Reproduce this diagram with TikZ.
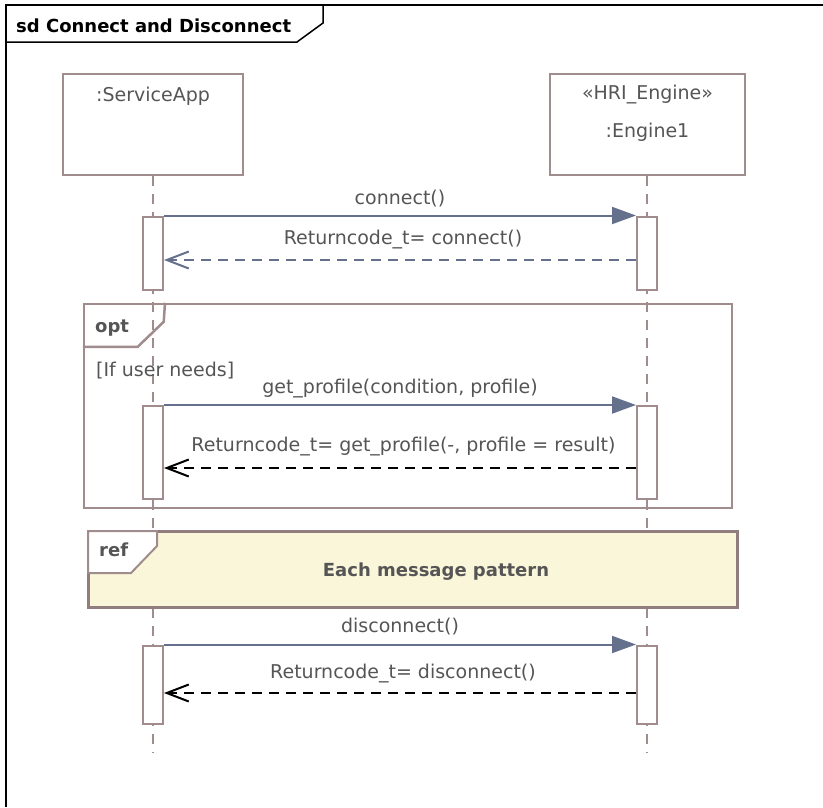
\documentclass[tikz,border=0pt]{standalone}
\usepackage{fontspec}
\setmainfont{DejaVu Sans}
\usetikzlibrary{arrows.meta,positioning}
\definecolor{framegray}{RGB}{160,140,140}
\definecolor{msgblue}{RGB}{100,112,140}
\definecolor{txtgray}{RGB}{85,85,85}
\definecolor{refyellow}{RGB}{250,246,218}
\begin{document}
\begin{tikzpicture}[x=1pt,y=-1pt,
  head/.style={draw=framegray,line width=2pt,fill=white,minimum height=101pt,anchor=north,inner sep=0pt},
  bar/.style={draw=framegray,line width=2pt,fill=white,minimum width=20pt,anchor=north,inner sep=0pt},
  life/.style={draw=framegray,line width=2pt,dash pattern=on 10pt off 8pt},
  lbl/.style={font=\fontsize{19}{22}\selectfont,text=txtgray,inner sep=0pt},
  bld/.style={font=\fontsize{18}{21}\selectfont\bfseries,text=txtgray,inner sep=0pt},
  call/.style={draw=msgblue,line width=2pt,-{Triangle[length=24pt,width=17pt]}},
  reply/.style={line width=2pt,dash pattern=on 10pt off 7pt,-{Straight Barb[length=22pt,width=17pt]}},
  optfrm/.style={draw=framegray,line width=2.5pt,inner sep=0pt},
  reffrm/.style={draw=framegray!90!black,line width=3pt,fill=refyellow,inner sep=0pt}]
\useasboundingbox (0,0) rectangle (823,807);
\draw[line width=1.5pt] (6,807) -- (6,5) -- (823,5);
\draw[line width=1.5pt] (6,42) -- (297,42) -- (323,23) -- (323,5);
\node[bld,text=black,anchor=west] (title) at (16,26) {sd Connect and Disconnect};
\node[head,minimum width=180pt] (app) at (153,73) {};
\node[head,minimum width=195pt] (eng) at (647.5,73) {};
\node[lbl] (appname) at ([yshift=-23.5pt]app.north) {:ServiceApp};
\node[lbl] (engtype) at ([yshift=-22pt]eng.north) {«HRI\_Engine»};
\node[lbl] (engname) at ([yshift=-59pt]eng.north) {:Engine1};
\coordinate (append) at (153,753);
\coordinate (engend) at (647,753);
\draw[life] (app.south) -- (append);
\draw[life] (engend |- eng.south) -- (engend);
\node[bar,minimum height=73.5pt] (a1) at (153,215.5) {};
\node[bar,minimum height=73.5pt] (b1) at (647,215.5) {};
\draw[call] (a1.north east) -- node[lbl,midway,yshift=17pt] {connect()} (b1.north west);
\draw[reply,msgblue] ([yshift=-44.5pt]b1.north west) -- node[lbl,midway,xshift=3pt,yshift=20pt] {Returncode\_t= connect()} ([yshift=-44.5pt]a1.north east);
\node[optfrm,minimum width=648pt,minimum height=204pt] (opt) at (408,406) {};
\draw[optfrm] ([yshift=-44pt]opt.north west) -- ++(55,0) -- ++(26,-25) -- (opt.north west -| 165,0);
\node[bld,anchor=base west] (optname) at (95,332) {opt};
\node[lbl,anchor=west] (guard) at (96,371) {[If user needs]};
\node[bar,minimum height=93pt] (a2) at (153,405) {};
\node[bar,minimum height=93pt] (b2) at (647,405) {};
\draw[call] (a2.north east) -- node[lbl,midway,yshift=16.5pt] {get\_profile(condition, profile)} (b2.north west);
\draw[reply] ([yshift=-63pt]b2.north west) -- node[lbl,midway,xshift=3.5pt,yshift=21pt] {Returncode\_t= get\_profile(-, profile = result)} ([yshift=-63pt]a2.north east);
\node[reffrm,minimum width=649pt,minimum height=76pt] (refbox) at (412.5,569) {};
\draw[draw=framegray,line width=2pt,fill=white] ([xshift=1.5pt,yshift=-1.5pt]refbox.north west) -- ++(0,42) -- ++(43,0) -- ++(26,-27) -- ++(0,-15) -- cycle;
\node[bld,anchor=base west] (refname) at (99,556) {ref};
\node[bld] (refname) at (436,572) {Each message pattern};
\node[bar,minimum height=78.5pt] (a3) at (153,644.5) {};
\node[bar,minimum height=78.5pt] (b3) at (647,644.5) {};
\draw[call] (a3.north east) -- node[lbl,midway,yshift=17.5pt] {disconnect()} (b3.north west);
\draw[reply] ([yshift=-48.5pt]b3.north west) -- node[lbl,midway,xshift=3pt,yshift=19pt] {Returncode\_t= disconnect()} ([yshift=-48.5pt]a3.north east);
\end{tikzpicture}
\end{document}
